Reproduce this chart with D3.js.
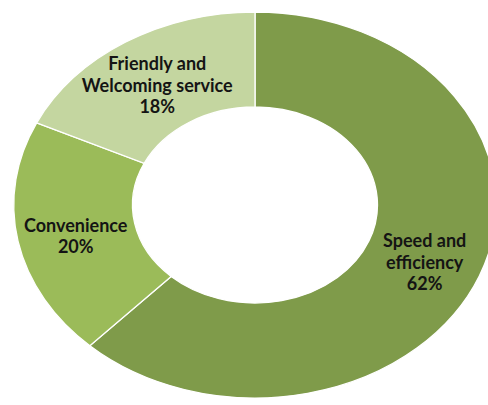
<!DOCTYPE html>
<meta charset="utf-8">
<script src="https://d3js.org/d3.v7.min.js"></script>
<style>
    body { margin: 0; background: #fff; }
    .sliceLabel {
        font-family: Lato, sans-serif;
        font-weight: bold;
        font-size: 18px;
        fill: #141414;
        text-anchor: middle;
    }
</style>
<div id="chart"></div>
<script>
    // data
    var categories = ["Speed and efficiency", "Convenience", "Friendly and Welcoming service"];
    var values = [62, 20, 18];
    var labelLines = [
        ["Speed and", "efficiency", "62%"],
        ["Convenience", "20%"],
        ["Friendly and", "Welcoming service", "18%"]
    ];
    var colors = ["#7f9b4a", "#9bbb59", "#c4d6a0"];

    var width = 488, height = 405;
    var cx = 255, cy = 205;
    var outerR = 193, innerR = 98;
    var squash = 1.25; // the donut is drawn wider than tall

    var svg = d3.select("#chart").append("svg")
        .attr("width", width)
        .attr("height", height);

    var pie = d3.pie().sort(null).value(d => d);
    var arcs = pie(values);

    var arc = d3.arc().innerRadius(innerR).outerRadius(outerR);
    var labelArc = d3.arc().innerRadius(146).outerRadius(146);

    var color = d3.scaleOrdinal().domain(categories).range(colors);

    var g = svg.append("g")
        .attr("transform", "translate(" + cx + "," + cy + ") scale(" + squash + ",1)");

    g.selectAll("path")
        .data(arcs)
        .enter()
        .append("path")
        .attr("d", arc)
        .attr("fill", (d, i) => color(categories[i]))
        .attr("stroke", "#fff")
        .attr("stroke-width", 1.3)
        .attr("vector-effect", "non-scaling-stroke");

    // labels
    var lineH = 21.7;
    var labels = svg.append("g")
        .attr("transform", "translate(" + cx + "," + cy + ")");

    labels.selectAll("text")
        .data(arcs)
        .enter()
        .append("text")
        .attr("class", "sliceLabel")
        .each(function (d, i) {
            var c = labelArc.centroid(d);
            var lines = labelLines[i];
            var x = c[0] * squash;
            var y0 = c[1] + 10 - (lines.length - 1) * lineH / 2;
            var t = d3.select(this);
            lines.forEach(function (s, k) {
                t.append("tspan")
                    .attr("x", x)
                    .attr("y", y0 + k * lineH)
                    .text(s);
            });
        });
</script>
